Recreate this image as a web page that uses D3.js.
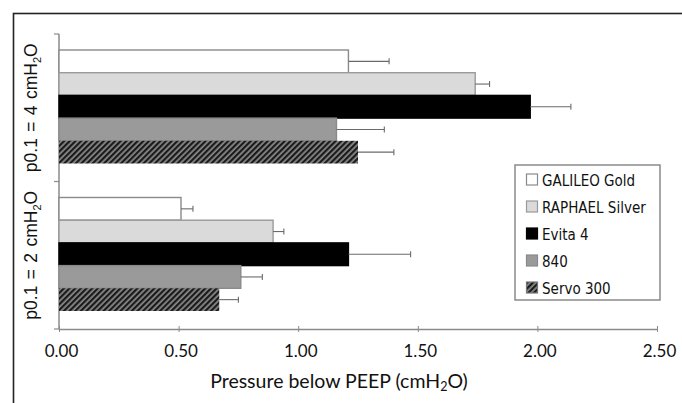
<!DOCTYPE html>
<html>
<head>
<meta charset="utf-8">
<script src="https://cdn.jsdelivr.net/npm/d3@7"></script>
<style>
  body { margin: 0; background: #fff; }
  svg { display: block; }
  .tick-label { font-family: Lato, "Open Sans", sans-serif; font-size: 17px; fill: #111; }
  .legend-text { font-family: "Liberation Sans Narrow", "DejaVu Sans Condensed", sans-serif; font-size: 15px; fill: #111; }
</style>
</head>
<body>
<svg id="chart"></svg>
<script>
// groups (y categories), top to bottom
const groups = ['4', '2'];
const series = ['GALILEO Gold', 'RAPHAEL Silver', 'Evita 4', '840', 'Servo 300'];
// mean pressure below PEEP, one array per group in series order
const meansP4 = [1.21, 1.74, 1.97, 1.16, 1.25];
const meansP2 = [0.51, 0.895, 1.21, 0.76, 0.67];
// upper end of the error bars
const errP4 = [1.38, 1.80, 2.14, 1.36, 1.40];
const errP2 = [0.56, 0.94, 1.47, 0.85, 0.75];
const xTicks = [0, 0.5, 1, 1.5, 2, 2.5];

const WIDTH = 682;
const HEIGHT = 403;
const PLOT = {left: 59, right: 657, top: 34, bottom: 329};

const fills = ['#ffffff', '#dadada', '#000000', '#9a9a9a', 'url(#hatch)'];
const strokes = ['#8a8a8a', '#9a9a9a', '#000000', '#8a8a8a', 'none'];

const svg = d3.select('#chart')
    .attr('width', WIDTH)
    .attr('height', HEIGHT);

// hatch pattern for Servo 300
const defs = svg.append('defs');
const hatch = defs.append('pattern')
    .attr('id', 'hatch')
    .attr('patternUnits', 'userSpaceOnUse')
    .attr('width', 4)
    .attr('height', 4)
    .attr('patternTransform', 'rotate(45)');
hatch.append('rect').attr('width', 4).attr('height', 4).attr('fill', '#8a8a8a');
hatch.append('line')
    .attr('x1', 1.1).attr('y1', 0).attr('x2', 1.1).attr('y2', 4)
    .attr('stroke', '#1a1a1a').attr('stroke-width', 2.3);

// outer frame (runs off the right and bottom edge)
svg.append('rect')
    .attr('x', 13.5)
    .attr('y', 13.5)
    .attr('width', WIDTH + 20)
    .attr('height', HEIGHT + 20)
    .attr('fill', 'none')
    .attr('stroke', '#222')
    .attr('stroke-width', 1.6);

const x = d3.scaleLinear().domain([0, 2.5]).range([PLOT.left, PLOT.right]);
const y = d3.scaleBand().domain(groups).range([PLOT.top, PLOT.bottom]).padding(0);
const ySub = d3.scaleBand().domain(series).range([16, y.bandwidth() - 18]).padding(0);

const rows = [];
groups.forEach((g, gi) => {
    const means = gi === 0 ? meansP4 : meansP2;
    const errs = gi === 0 ? errP4 : errP2;
    series.forEach((s, si) => {
        rows.push({group: g, series: s, idx: si, value: means[si], err: errs[si]});
    });
});

// x axis
const xAxis = svg.append('g')
    .attr('transform', `translate(0, ${PLOT.bottom})`)
    .call(d3.axisBottom(x).tickValues(xTicks).tickFormat(d3.format('.2f')).tickSize(3).tickSizeOuter(0));
xAxis.attr('font-size', null).attr('font-family', null);
xAxis.select('.domain').attr('stroke', '#8a8a8a').attr('stroke-width', 1.5);
xAxis.selectAll('.tick line').attr('stroke', '#8a8a8a').attr('y1', -3).attr('y2', 3);
xAxis.selectAll('.tick text')
    .attr('class', 'tick-label')
    .attr('dy', 0)
    .attr('y', 28)
    .attr('dx', 2);

// y axis: line with ticks at the band edges
const yEdges = groups.map(g => y(g)).concat([y(groups[groups.length - 1]) + y.bandwidth()]);
svg.append('line')
    .attr('x1', PLOT.left).attr('x2', PLOT.left)
    .attr('y1', PLOT.top).attr('y2', PLOT.bottom)
    .attr('stroke', '#8a8a8a').attr('stroke-width', 1.5);
svg.selectAll('.ytick')
    .data(yEdges)
    .enter()
    .append('line')
    .attr('x1', PLOT.left - 5).attr('x2', PLOT.left)
    .attr('y1', d => d).attr('y2', d => d)
    .attr('stroke', '#8a8a8a').attr('stroke-width', 1.2);

// rotated group labels
groups.forEach(g => {
    const cy = y(g) + y.bandwidth() / 2;
    const t = svg.append('text')
        .attr('transform', `translate(37, ${cy}) rotate(-90)`)
        .attr('text-anchor', 'middle')
        .style('font-family', '"Liberation Sans", Arial, sans-serif')
        .style('font-size', '17.5px')
        .style('word-spacing', '1.5px')
        .attr('fill', '#111');
    t.append('tspan').text(`p0.1 = ${g} cmH`);
    t.append('tspan').text('2').style('font-size', '11px').attr('dy', 4);
    t.append('tspan').text('O').attr('dy', -4);
});

// bars
svg.selectAll('.bar')
    .data(rows)
    .enter()
    .append('rect')
    .classed('bar', true)
    .attr('x', x(0))
    .attr('y', d => y(d.group) + ySub(d.series))
    .attr('width', d => x(d.value) - x(0))
    .attr('height', ySub.bandwidth())
    .attr('fill', d => fills[d.idx])
    .attr('stroke', d => strokes[d.idx])
    .attr('stroke-width', 1.4);

// error bars
const errG = svg.append('g').attr('stroke', '#6a6a6a').attr('stroke-width', 1.1);
errG.selectAll('.err')
    .data(rows)
    .enter()
    .append('line')
    .attr('x1', d => x(d.value))
    .attr('x2', d => x(d.err))
    .attr('y1', d => y(d.group) + ySub(d.series) + ySub.bandwidth() / 2)
    .attr('y2', d => y(d.group) + ySub(d.series) + ySub.bandwidth() / 2);
errG.selectAll('.cap')
    .data(rows)
    .enter()
    .append('line')
    .attr('x1', d => x(d.err))
    .attr('x2', d => x(d.err))
    .attr('y1', d => y(d.group) + ySub(d.series) + ySub.bandwidth() / 2 - 3)
    .attr('y2', d => y(d.group) + ySub(d.series) + ySub.bandwidth() / 2 + 3);

// axis title
const title = svg.append('text')
    .attr('x', 339)
    .attr('y', 388)
    .attr('text-anchor', 'middle')
    .attr('class', 'tick-label')
    .style('font-size', '19.5px');
title.append('tspan').text('Pressure below PEEP (cmH');
title.append('tspan').text('2').style('font-size', '12.5px').attr('dy', 3);
title.append('tspan').text('O)').attr('dy', -3);

// legend
const legend = svg.append('g').attr('transform', 'translate(515, 165)');
legend.append('rect')
    .attr('width', 145)
    .attr('height', 135)
    .attr('fill', '#fff')
    .attr('stroke', '#8a8a8a')
    .attr('stroke-width', 1.5);
const items = legend.selectAll('.item')
    .data(series)
    .enter()
    .append('g')
    .attr('transform', (d, i) => `translate(11, ${15 + i * 27})`);
items.append('rect')
    .attr('x', 0.5).attr('y', -6)
    .attr('width', 11).attr('height', 11)
    .attr('fill', (d, i) => fills[i])
    .attr('stroke', (d, i) => i === 4 ? '#777' : strokes[i])
    .attr('stroke-width', 1.2);
items.append('text')
    .attr('class', 'legend-text')
    .attr('x', 16)
    .attr('y', 5.5)
    .text(d => d);
</script>
</body>
</html>
